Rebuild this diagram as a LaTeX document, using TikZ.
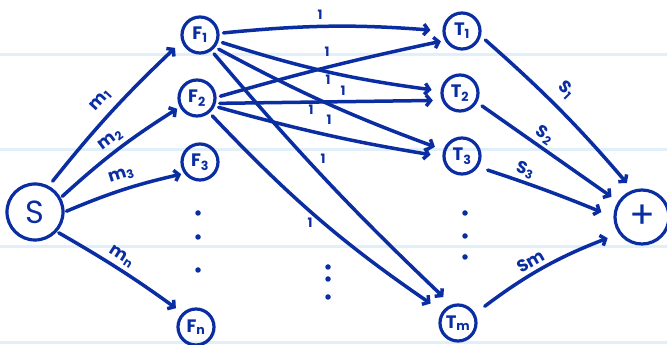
\documentclass[tikz,border=0pt]{standalone}
\usepackage{fontspec}
\setmainfont{Poppins}
\usetikzlibrary{arrows.meta}
\definecolor{ink}{RGB}{10,46,162}
\definecolor{ruleblue}{RGB}{224,239,250}
\begin{document}
\begin{tikzpicture}[x=1pt,y=1pt,
  inkline/.style={draw=ink, line width=3.5pt, line cap=round, line join=round},
  arr/.style={inkline, -{Straight Barb[length=4.5pt,width=11pt]}, shorten >=3pt, shorten <=2pt},
  midarr/.style={arr, shorten >=9pt, shorten <=4pt},
  vert/.style={circle, draw=ink, line width=3.2pt, text=ink, inner sep=0pt, minimum size=36pt, font=\bfseries\fontsize{18}{18}\selectfont},
  big/.style={vert, minimum size=56pt, font=\fontsize{32}{32}\selectfont},
  lab/.style={text=ink, inner sep=0pt, font=\bfseries\fontsize{17}{17}\selectfont, sloped},
  one/.style={text=ink, inner sep=0pt, font=\bfseries\fontsize{13}{13}\selectfont},
  dot/.style={circle, fill=ink, inner sep=0pt, minimum size=5.5pt}
]
\fill[white] (0,0) rectangle (667,345);
\useasboundingbox (0,0) rectangle (667,345);
\foreach \yy in {290,195,98,2} \fill[ruleblue] (0,\yy-1.5) rectangle (667,\yy+1.5);

\node[big] (S) at (35,133) {S};
\node[vert] (F1) at (200,310) {F\textsubscript{1}};
\node[vert] (F2) at (197,247) {F\textsubscript{2}};
\node[vert] (F3) at (200,183) {F\textsubscript{3}};
\node[vert] (Fn) at (196,18) {F\textsubscript{n}};
\node[vert] (T1) at (462,314) {T\textsubscript{1}};
\node[vert] (T2) at (460,252) {T\textsubscript{2}};
\node[vert] (T3) at (462,189) {T\textsubscript{3}};
\node[vert] (Tm) at (458,22) {T\textsubscript{m}};
\node[big, minimum size=54pt, font=\fontsize{38}{38}\selectfont] (P) at (642,128) {+};

% source edges
\draw[arr, shorten <=6pt, shorten >=9pt] (S.62) to[bend left=4] node[lab, pos=0.5, above=8pt] (m1) {m\textsubscript{1}} (F1.200);
\draw[arr] (S.29) to[bend left=5] node[lab, pos=0.5, above=4pt] (m2) {m\textsubscript{2}} (F2.208);
\draw[arr] (S.0) to[bend left=5] node[lab, pos=0.52, above=6pt] (m3) {m\textsubscript{3}} (F3.216);
\draw[arr, shorten >=8pt] (S.-42) to[bend left=3] node[lab, pos=0.45, above=4pt] (mn) {m\textsubscript{n}} (Fn.134);

% middle edges
\draw[midarr, shorten >=12pt] (F1.5) to[bend left=5] (T1.180);
\draw[midarr, shorten >=4pt] (F2.2) to[bend left=2] (T1.209);
\draw[midarr] (F1.-19) to[bend right=5] (T2.174);
\draw[midarr] (F2.-16) to (T2.202);
\draw[midarr] (F1.-39) to[bend right=4] (T3.162);
\draw[midarr, shorten >=12pt] (F2.-25) to[bend right=3] (T3.182);
\draw[midarr, shorten >=11pt] (F1.-54) to[bend right=3] (Tm.110);
\draw[midarr, shorten >=14pt] (F2.-50) to[bend right=6] (Tm.144);

% sink edges
\draw[arr, shorten <=6pt, shorten >=9pt] (T1.-15) to[bend left=4] node[lab, pos=0.45, above=9pt] (s1) {S\textsubscript{1}} (P.109);
\draw[arr, shorten <=6pt, shorten >=8pt] (T2.-29) to node[lab, pos=0.43, above=3pt] (s2) {S\textsubscript{2}} (P.147);
\draw[arr, shorten <=10pt, shorten >=13pt] (T3.-34) to[bend left=2] node[lab, pos=0.3, above=3pt] (s3) {S\textsubscript{3}} (P.180);
\draw[arr, shorten <=12pt, shorten >=12pt] (Tm.29) to[bend left=8] node[lab, pos=0.45, above=4pt] (sm) {Sm} (P.216);

\node[one] (o1) at (320,330) {1};
\node[one] (o2) at (327,293) {1};
\node[one] (o3) at (328,265) {1};
\node[one] (o4) at (343,254) {1};
\node[one] (o5) at (311,235) {1};
\node[one] (o6) at (329,225) {1};
\node[one] (o7) at (323,186) {1};
\node[one] (o8) at (310,122) {1};

% dots
\foreach \yy [count=\i] in {132,108,75} \node[dot] (fd\i) at (198,\yy) {};
\foreach \yy [count=\i] in {78,66,48} \node[dot] (md\i) at (328,\yy) {};
\foreach \yy [count=\i] in {132,109,88} \node[dot] (td\i) at (465,\yy) {};
\end{tikzpicture}
\end{document}
